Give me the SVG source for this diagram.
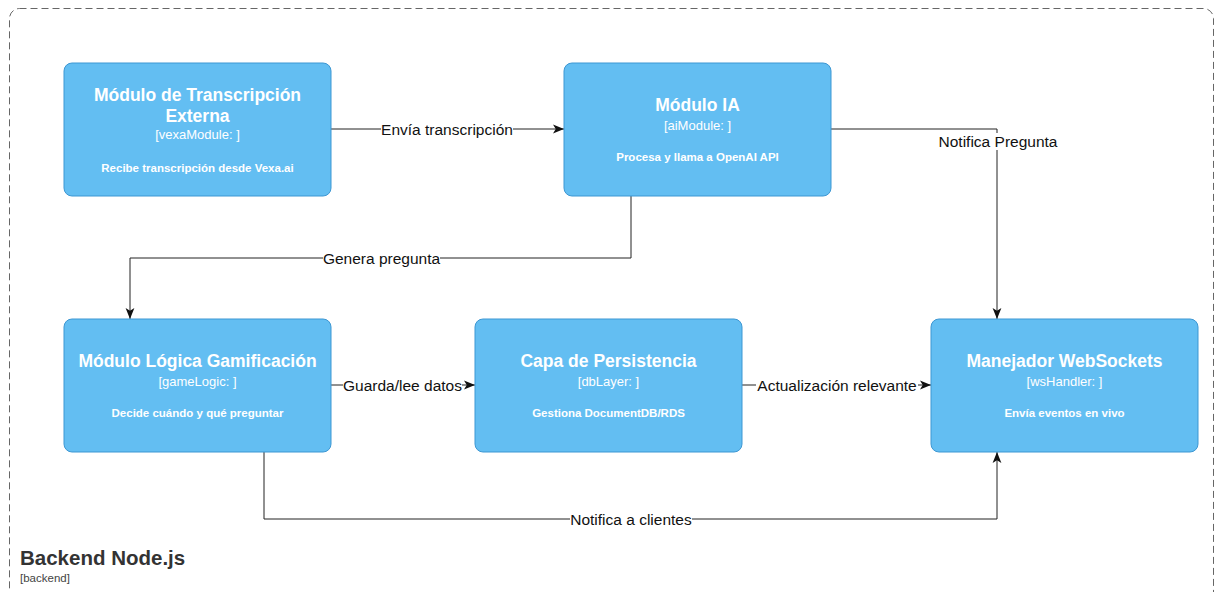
<svg xmlns="http://www.w3.org/2000/svg" width="1217" height="592" viewBox="0 0 1217 592">
<style>
.box{fill:#63BEF2;stroke:#3D97D3;stroke-width:1}
.t{font-family:"Liberation Sans",Arial,sans-serif;fill:#fff;text-anchor:middle}
.title{font-size:17.5px;font-weight:bold}
.sub{font-size:13px}
.desc{font-size:11.5px;font-weight:bold}
.edge{fill:none;stroke:#222;stroke-width:1}
.lbl{font-family:"Liberation Sans",Arial,sans-serif;font-size:15.5px;fill:#111;text-anchor:middle}
.lblbg{fill:#fff}
</style>
<defs>
<marker id="arr" viewBox="0 0 10 10" refX="10" refY="5" markerWidth="11" markerHeight="11" markerUnits="userSpaceOnUse" orient="auto">
<path d="M0,1 L10,5 L0,9 L2.5,5 Z" fill="#111"/>
</marker>
</defs>
<rect width="1217" height="592" fill="#fff"/>
<g id="container">
<rect x="9.5" y="8.5" width="1204" height="610" rx="10" fill="none" stroke="#666" stroke-dasharray="7 4"/>
<text x="20" y="565" font-family="'Liberation Sans',Arial,sans-serif" font-size="20.5" font-weight="bold" fill="#333">Backend Node.js</text>
<text x="20" y="582" font-family="'Liberation Sans',Arial,sans-serif" font-size="11.5" fill="#444">[backend]</text>
</g>
<g id="connectors">
<path class="edge" d="M331,129 H564" marker-end="url(#arr)"/>
<path class="edge" d="M831,129 H997 V319" marker-end="url(#arr)"/>
<path class="edge" d="M631,196 V258 H130 V319" marker-end="url(#arr)"/>
<path class="edge" d="M331,385 H475" marker-end="url(#arr)"/>
<path class="edge" d="M742,385 H931" marker-end="url(#arr)"/>
<path class="edge" d="M264,452 V519 H997 V452" marker-end="url(#arr)"/>
<rect class="lblbg" x="381" y="121" width="132" height="17"/>
<text class="lbl" x="447" y="134.5">Envía transcripción</text>
<rect class="lblbg" x="938" y="133" width="120" height="17"/>
<text class="lbl" x="998" y="146.5">Notifica Pregunta</text>
<rect class="lblbg" x="323" y="250" width="117" height="17"/>
<text class="lbl" x="381.5" y="263.5">Genera pregunta</text>
<rect class="lblbg" x="343" y="377" width="119" height="17"/>
<text class="lbl" x="402.5" y="390.5">Guarda/lee datos</text>
<rect class="lblbg" x="756" y="377" width="162" height="17"/>
<text class="lbl" x="837" y="390.5">Actualización relevante</text>
<rect class="lblbg" x="570" y="511" width="122" height="17"/>
<text class="lbl" x="631" y="524.5">Notifica a clientes</text>
</g>
<g id="vexaModule">
<rect class="box" x="64" y="63" width="267" height="133" rx="8"/>
<text class="t title" x="197.5" y="101">Módulo de Transcripción</text>
<text class="t title" x="197.5" y="122">Externa</text>
<text class="t sub" x="197.5" y="138.5">[vexaModule: ]</text>
<text class="t desc" x="197.5" y="172">Recibe transcripción desde Vexa.ai</text>
</g>
<g id="aiModule">
<rect class="box" x="564" y="63" width="267" height="133" rx="8"/>
<text class="t title" x="697.5" y="111">Módulo IA</text>
<text class="t sub" x="697.5" y="129.5">[aiModule: ]</text>
<text class="t desc" x="697.5" y="161">Procesa y llama a OpenAI API</text>
</g>
<g id="gameLogic">
<rect class="box" x="64" y="319" width="267" height="133" rx="8"/>
<text class="t title" x="197.5" y="367">Módulo Lógica Gamificación</text>
<text class="t sub" x="197.5" y="385.5">[gameLogic: ]</text>
<text class="t desc" x="197.5" y="417">Decide cuándo y qué preguntar</text>
</g>
<g id="dbLayer">
<rect class="box" x="475" y="319" width="267" height="133" rx="8"/>
<text class="t title" x="608.5" y="367">Capa de Persistencia</text>
<text class="t sub" x="608.5" y="385.5">[dbLayer: ]</text>
<text class="t desc" x="608.5" y="417">Gestiona DocumentDB/RDS</text>
</g>
<g id="wsHandler">
<rect class="box" x="931" y="319" width="267" height="133" rx="8"/>
<text class="t title" x="1064.5" y="367">Manejador WebSockets</text>
<text class="t sub" x="1064.5" y="385.5">[wsHandler: ]</text>
<text class="t desc" x="1064.5" y="417">Envía eventos en vivo</text>
</g>
</svg>
